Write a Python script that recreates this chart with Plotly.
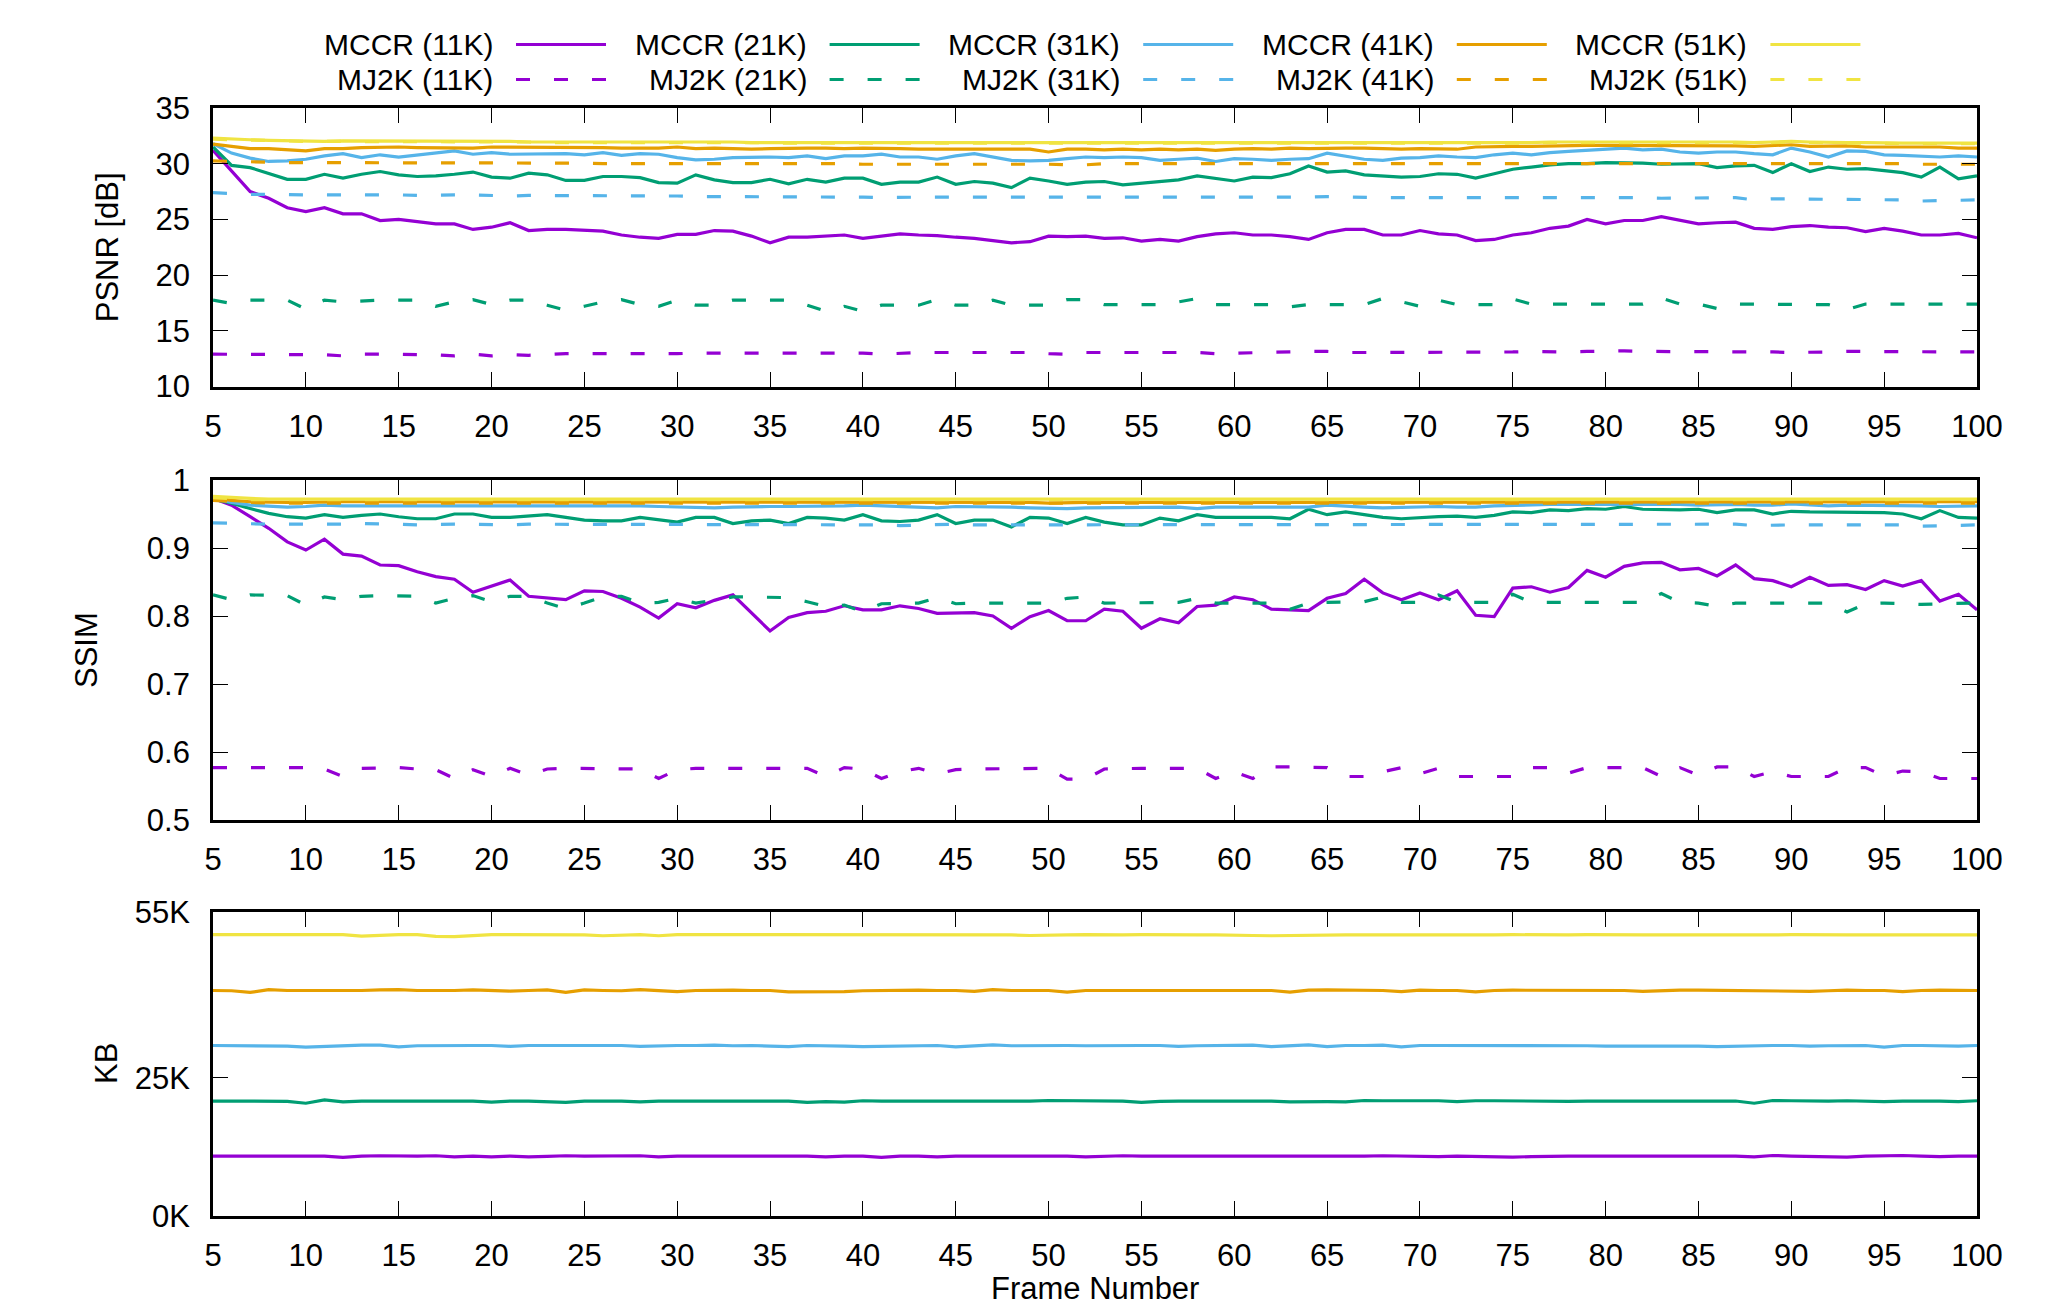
import plotly.graph_objects as go
from plotly.subplots import make_subplots

frames = list(range(5, 101))

labels_mccr = ["MCCR (11K)", "MCCR (21K)", "MCCR (31K)", "MCCR (41K)", "MCCR (51K)"]
labels_mj2k = ["MJ2K (11K)", "MJ2K (21K)", "MJ2K (31K)", "MJ2K (41K)", "MJ2K (51K)"]
colors = ["#9400d3", "#009e73", "#56b4e9", "#e69f00", "#f0e442"]

# ---------------- PSNR [dB] ----------------
psnr_mccr_11k = [31.2, 29.3, 27.5, 26.9, 26.05, 25.7, 26.05, 25.5, 25.5, 24.9,
                 25.0, 24.8, 24.6, 24.6, 24.1, 24.3, 24.7, 24.0, 24.1, 24.1,
                 24.0, 23.95, 23.6, 23.4, 23.3, 23.65, 23.65, 24.0, 23.95, 23.5,
                 22.9, 23.4, 23.4, 23.5, 23.6, 23.3, 23.5, 23.7, 23.6, 23.55,
                 23.4, 23.3, 23.1, 22.9, 23.0, 23.5, 23.45, 23.5, 23.3, 23.35,
                 23.05, 23.2, 23.05, 23.45, 23.7, 23.8, 23.6, 23.6, 23.45, 23.2,
                 23.8, 24.1, 24.1, 23.6, 23.6, 24.0, 23.7, 23.6, 23.1, 23.2,
                 23.6, 23.8, 24.2, 24.4, 25.0, 24.6, 24.9, 24.9, 25.25, 24.9,
                 24.6, 24.7, 24.75, 24.2, 24.1, 24.35, 24.45, 24.3, 24.25, 23.9,
                 24.2, 23.95, 23.6, 23.6, 23.75, 23.35]
psnr_mccr_21k = [31.5, 29.85, 29.65, 29.1, 28.6, 28.6, 29.05, 28.7, 29.05, 29.3,
                 29.0, 28.85, 28.9, 29.05, 29.25, 28.8, 28.7, 29.15, 29.0, 28.5,
                 28.5, 28.85, 28.85, 28.75, 28.3, 28.25, 29.0, 28.55, 28.3, 28.3,
                 28.6, 28.2, 28.6, 28.35, 28.7, 28.7, 28.15, 28.35, 28.35, 28.8,
                 28.15, 28.4, 28.25, 27.85, 28.7, 28.45, 28.15, 28.35, 28.4, 28.1,
                 28.25, 28.4, 28.55, 28.9, 28.7, 28.45, 28.8, 28.75, 29.1, 29.8,
                 29.25, 29.35, 29.0, 28.9, 28.8, 28.85, 29.1, 29.05, 28.7, 29.1,
                 29.5, 29.7, 29.9, 30.0, 30.0, 30.1, 30.1, 30.05, 29.95, 29.95,
                 30.0, 29.65, 29.8, 29.85, 29.2, 30.0, 29.3, 29.7, 29.5, 29.55,
                 29.4, 29.2, 28.8, 29.7, 28.65, 28.9]
psnr_mccr_31k = [31.8, 30.95, 30.5, 30.2, 30.25, 30.4, 30.7, 30.9, 30.55, 30.8,
                 30.6, 30.8, 30.95, 31.15, 30.85, 31.0, 30.85, 30.85, 30.9, 30.9,
                 30.8, 31.0, 30.75, 30.9, 30.85, 30.55, 30.35, 30.4, 30.55, 30.6,
                 30.6, 30.55, 30.7, 30.45, 30.7, 30.7, 30.85, 30.6, 30.6, 30.4,
                 30.7, 30.9, 30.6, 30.3, 30.25, 30.3, 30.45, 30.6, 30.55, 30.6,
                 30.55, 30.3, 30.4, 30.5, 30.2, 30.45, 30.4, 30.3, 30.4, 30.45,
                 30.95, 30.7, 30.4, 30.3, 30.5, 30.55, 30.7, 30.6, 30.55, 30.8,
                 30.95, 30.8, 31.0, 31.1, 31.2, 31.3, 31.4, 31.25, 31.3, 31.05,
                 30.95, 31.05, 31.05, 30.9, 30.8, 31.4, 31.05, 30.6, 31.15, 31.1,
                 30.8, 30.75, 30.7, 30.6, 30.7, 30.6]
psnr_mccr_41k = [31.75, 31.55, 31.35, 31.35, 31.25, 31.15, 31.35, 31.35, 31.45, 31.5,
                 31.5, 31.45, 31.45, 31.45, 31.4, 31.5, 31.5, 31.45, 31.45, 31.45,
                 31.45, 31.45, 31.4, 31.4, 31.4, 31.5, 31.35, 31.4, 31.35, 31.3,
                 31.35, 31.4, 31.4, 31.4, 31.35, 31.4, 31.4, 31.35, 31.3, 31.3,
                 31.3, 31.35, 31.35, 31.3, 31.3, 31.05, 31.3, 31.3, 31.25, 31.3,
                 31.25, 31.3, 31.25, 31.3, 31.2, 31.3, 31.35, 31.3, 31.4, 31.35,
                 31.4, 31.4, 31.4, 31.35, 31.3, 31.35, 31.3, 31.3, 31.5, 31.55,
                 31.55, 31.55, 31.6, 31.6, 31.65, 31.65, 31.65, 31.6, 31.6, 31.6,
                 31.6, 31.6, 31.6, 31.55, 31.6, 31.7, 31.55, 31.55, 31.6, 31.5,
                 31.5, 31.5, 31.45, 31.5, 31.4, 31.4]
psnr_mccr_51k = [32.3, 32.2, 32.15, 32.1, 32.05, 32.05, 32.0, 32.05, 32.05, 32.05,
                 32.05, 32.0, 32.0, 32.0, 32.0, 32.0, 32.0, 31.95, 31.95, 31.95,
                 31.95, 31.95, 31.95, 31.95, 31.95, 32.0, 31.95, 31.95, 31.95, 31.9,
                 31.9, 31.9, 31.9, 31.9, 31.85, 31.85, 31.85, 31.85, 31.85, 31.85,
                 31.85, 31.85, 31.85, 31.85, 31.85, 31.85, 31.9, 31.85, 31.85, 31.85,
                 31.85, 31.85, 31.85, 31.85, 31.85, 31.85, 31.85, 31.85, 31.9, 31.9,
                 31.9, 31.9, 31.85, 31.85, 31.85, 31.85, 31.85, 31.85, 31.9, 31.9,
                 31.9, 31.9, 31.95, 31.95, 31.95, 32.0, 32.0, 31.95, 31.95, 31.95,
                 31.95, 31.95, 31.95, 31.9, 31.95, 32.0, 31.95, 31.9, 31.9, 31.9,
                 31.85, 31.85, 31.85, 31.85, 31.85, 31.85]
psnr_mj2k_11k = [12.9, 12.9, 12.9, 12.9, 12.9, 12.9, 12.85, 12.75, 12.9, 12.9,
                 12.9, 12.9, 12.85, 12.75, 12.9, 12.75, 12.85, 12.8, 12.9, 12.95,
                 12.95, 12.95, 12.95, 12.9, 12.9, 12.95, 13.0, 13.0, 13.0, 13.0,
                 13.0, 12.95, 13.0, 13.0, 13.0, 13.0, 12.9, 13.0, 13.05, 13.05,
                 13.05, 13.05, 13.05, 13.05, 13.05, 12.95, 12.9, 13.05, 13.05, 13.05,
                 13.05, 13.05, 13.05, 13.05, 12.95, 13.0, 13.05, 13.1, 13.15, 13.15,
                 13.15, 13.05, 13.05, 13.05, 13.1, 13.05, 13.05, 13.05, 13.05, 13.05,
                 13.1, 13.15, 13.1, 13.1, 13.15, 13.2, 13.2, 13.15, 13.15, 13.1,
                 13.1, 13.15, 13.15, 13.1, 13.1, 13.05, 13.05, 13.1, 13.15, 13.15,
                 13.15, 13.15, 13.15, 13.1, 13.1, 13.1]
psnr_mj2k_21k = [17.75, 17.45, 17.75, 17.75, 17.75, 16.95, 17.75, 17.6, 17.7, 17.75,
                 17.75, 17.75, 17.2, 17.6, 17.8, 17.35, 17.75, 17.75, 17.3, 16.85,
                 17.2, 17.6, 17.8, 17.35, 17.2, 17.75, 17.3, 17.3, 17.75, 17.75,
                 17.75, 17.75, 17.3, 16.75, 17.2, 16.75, 17.3, 17.3, 17.3, 17.8,
                 17.3, 17.3, 17.75, 17.3, 17.3, 17.3, 17.8, 17.8, 17.35, 17.35,
                 17.35, 17.35, 17.6, 17.9, 17.35, 17.35, 17.35, 17.35, 17.15, 17.35,
                 17.35, 17.35, 17.35, 17.9, 17.6, 17.2, 17.75, 17.35, 17.35, 17.35,
                 17.85, 17.4, 17.4, 17.4, 17.4, 17.4, 17.4, 17.4, 17.95, 17.4,
                 17.4, 17.0, 17.4, 17.4, 17.4, 17.4, 17.4, 17.35, 16.9, 17.4,
                 17.4, 17.4, 17.4, 17.4, 17.4, 17.4]
psnr_mj2k_31k = [27.4, 27.3, 27.25, 27.25, 27.2, 27.2, 27.2, 27.2, 27.25, 27.25,
                 27.2, 27.15, 27.2, 27.2, 27.2, 27.15, 27.1, 27.15, 27.15, 27.1,
                 27.1, 27.1, 27.1, 27.1, 27.1, 27.1, 27.05, 27.05, 27.05, 27.05,
                 27.05, 27.05, 27.0, 27.0, 27.0, 27.0, 26.95, 27.0, 27.0, 27.0,
                 27.0, 27.0, 27.0, 27.0, 26.95, 26.95, 26.95, 26.95, 26.95, 27.0,
                 26.95, 26.95, 26.95, 27.0, 26.95, 26.95, 26.95, 27.0, 27.0, 27.0,
                 27.05, 27.0, 26.95, 26.95, 26.95, 26.95, 26.95, 26.95, 26.95, 26.95,
                 26.95, 26.95, 27.0, 27.0, 26.95, 27.0, 26.95, 26.95, 26.9, 26.9,
                 26.9, 26.95, 26.95, 26.75, 26.85, 26.85, 26.8, 26.8, 26.8, 26.8,
                 26.8, 26.75, 26.65, 26.7, 26.75, 26.75]
psnr_mj2k_41k = [30.25, 30.2, 30.15, 30.15, 30.1, 30.1, 30.1, 30.1, 30.1, 30.1,
                 30.1, 30.1, 30.1, 30.05, 30.05, 30.05, 30.05, 30.05, 30.05, 30.05,
                 30.05, 30.0, 30.0, 30.05, 30.05, 30.05, 30.05, 30.0, 30.0, 30.0,
                 30.0, 30.0, 30.0, 30.0, 30.0, 29.95, 29.95, 29.95, 30.0, 30.0,
                 30.0, 29.95, 29.95, 29.95, 30.0, 29.95, 29.9, 29.9, 30.0, 30.0,
                 30.0, 30.0, 30.0, 30.0, 30.0, 30.0, 30.0, 30.0, 30.0, 30.05,
                 30.05, 30.0, 30.0, 30.0, 30.0, 30.0, 30.0, 30.0, 30.0, 30.0,
                 30.0, 30.05, 30.05, 30.05, 30.05, 30.05, 30.05, 30.05, 30.05, 30.05,
                 30.05, 30.05, 30.05, 30.0, 30.05, 30.05, 30.0, 30.0, 30.0, 30.0,
                 30.0, 30.0, 29.95, 29.95, 29.95, 29.95]
psnr_mj2k_51k = [32.2, 32.15, 32.1, 32.05, 32.05, 32.0, 32.0, 32.0, 32.0, 32.0,
                 32.0, 31.95, 31.95, 31.95, 31.95, 31.95, 31.95, 31.95, 31.9, 31.9,
                 31.9, 31.9, 31.9, 31.9, 31.9, 31.95, 31.9, 31.9, 31.9, 31.9,
                 31.85, 31.85, 31.85, 31.85, 31.85, 31.85, 31.85, 31.85, 31.8, 31.8,
                 31.8, 31.8, 31.8, 31.8, 31.8, 31.8, 31.85, 31.8, 31.8, 31.8,
                 31.8, 31.8, 31.8, 31.8, 31.8, 31.8, 31.8, 31.8, 31.85, 31.85,
                 31.85, 31.85, 31.8, 31.8, 31.8, 31.8, 31.8, 31.8, 31.85, 31.85,
                 31.85, 31.85, 31.9, 31.9, 31.9, 31.95, 31.95, 31.9, 31.9, 31.9,
                 31.9, 31.9, 31.9, 31.85, 31.9, 31.95, 31.9, 31.85, 31.85, 31.85,
                 31.8, 31.8, 31.8, 31.8, 31.8, 31.8]

# ---------------- SSIM ----------------
ssim_mccr_11k = [0.973, 0.963, 0.946, 0.929, 0.909, 0.897, 0.913, 0.891, 0.888, 0.875,
                 0.874, 0.865, 0.858, 0.854, 0.835, 0.844, 0.853, 0.829, 0.827, 0.824,
                 0.837, 0.836, 0.826, 0.813, 0.797, 0.818, 0.812, 0.823, 0.831, 0.804,
                 0.778, 0.798, 0.805, 0.807, 0.815, 0.809, 0.809, 0.815, 0.811, 0.804,
                 0.805, 0.805, 0.800, 0.782, 0.799, 0.808, 0.793, 0.793, 0.810, 0.807,
                 0.782, 0.796, 0.790, 0.814, 0.816, 0.828, 0.824, 0.810, 0.809, 0.808,
                 0.826, 0.833, 0.854, 0.834, 0.824, 0.834, 0.824, 0.837, 0.801, 0.799,
                 0.841, 0.843, 0.835, 0.842, 0.867, 0.857, 0.873, 0.878, 0.879, 0.868,
                 0.870, 0.859, 0.875, 0.855, 0.852, 0.843, 0.857, 0.845, 0.846, 0.839,
                 0.852, 0.844, 0.852, 0.822, 0.832, 0.809]
ssim_mccr_21k = [0.972, 0.966, 0.958, 0.951, 0.946, 0.944, 0.949, 0.945, 0.948, 0.950,
                 0.946, 0.943, 0.943, 0.950, 0.950, 0.945, 0.945, 0.947, 0.949, 0.945,
                 0.941, 0.940, 0.940, 0.945, 0.941, 0.938, 0.945, 0.945, 0.936, 0.940,
                 0.941, 0.936, 0.945, 0.944, 0.941, 0.949, 0.940, 0.939, 0.941, 0.949,
                 0.936, 0.941, 0.941, 0.931, 0.945, 0.944, 0.936, 0.945, 0.938, 0.934,
                 0.934, 0.944, 0.940, 0.949, 0.945, 0.945, 0.946, 0.945, 0.943, 0.957,
                 0.949, 0.953, 0.949, 0.945, 0.943, 0.945, 0.946, 0.947, 0.945, 0.948,
                 0.953, 0.952, 0.956, 0.955, 0.958, 0.957, 0.961, 0.957, 0.956, 0.956,
                 0.957, 0.952, 0.956, 0.956, 0.950, 0.954, 0.953, 0.953, 0.953, 0.953,
                 0.952, 0.950, 0.943, 0.955, 0.945, 0.944]
ssim_mccr_31k = [0.973, 0.967, 0.963, 0.962, 0.960, 0.961, 0.963, 0.962, 0.962, 0.963,
                 0.963, 0.963, 0.962, 0.963, 0.963, 0.963, 0.962, 0.963, 0.963, 0.963,
                 0.963, 0.962, 0.963, 0.962, 0.961, 0.960, 0.960, 0.959, 0.960, 0.961,
                 0.961, 0.961, 0.961, 0.961, 0.962, 0.963, 0.962, 0.962, 0.961, 0.959,
                 0.961, 0.961, 0.961, 0.960, 0.959, 0.958, 0.958, 0.959, 0.959, 0.959,
                 0.959, 0.959, 0.960, 0.958, 0.960, 0.960, 0.960, 0.959, 0.959, 0.960,
                 0.963, 0.961, 0.960, 0.959, 0.960, 0.960, 0.961, 0.960, 0.960, 0.962,
                 0.963, 0.963, 0.964, 0.964, 0.964, 0.965, 0.965, 0.964, 0.964, 0.964,
                 0.963, 0.964, 0.964, 0.963, 0.963, 0.965, 0.963, 0.962, 0.963, 0.963,
                 0.962, 0.962, 0.962, 0.961, 0.962, 0.962]
ssim_mccr_41k = [0.974, 0.970, 0.968, 0.967, 0.967, 0.967, 0.968, 0.968, 0.968, 0.968,
                 0.968, 0.968, 0.968, 0.968, 0.968, 0.968, 0.968, 0.968, 0.968, 0.967,
                 0.968, 0.968, 0.967, 0.967, 0.967, 0.967, 0.967, 0.967, 0.967, 0.967,
                 0.967, 0.967, 0.967, 0.967, 0.967, 0.967, 0.967, 0.967, 0.967, 0.967,
                 0.967, 0.967, 0.967, 0.967, 0.967, 0.966, 0.967, 0.967, 0.967, 0.967,
                 0.967, 0.967, 0.967, 0.967, 0.967, 0.967, 0.967, 0.967, 0.967, 0.967,
                 0.967, 0.967, 0.967, 0.967, 0.967, 0.967, 0.967, 0.967, 0.968, 0.968,
                 0.968, 0.968, 0.968, 0.968, 0.968, 0.968, 0.968, 0.968, 0.968, 0.968,
                 0.968, 0.968, 0.968, 0.968, 0.968, 0.968, 0.968, 0.968, 0.968, 0.968,
                 0.968, 0.968, 0.968, 0.968, 0.968, 0.968]
ssim_mccr_51k = [0.976, 0.974, 0.973, 0.972, 0.972, 0.972, 0.972, 0.972, 0.972, 0.972,
                 0.972, 0.972, 0.972, 0.972, 0.972, 0.972, 0.972, 0.972, 0.972, 0.972,
                 0.972, 0.972, 0.972, 0.971, 0.971, 0.971, 0.971, 0.971, 0.971, 0.971,
                 0.971, 0.971, 0.971, 0.971, 0.971, 0.971, 0.971, 0.971, 0.971, 0.971,
                 0.971, 0.971, 0.971, 0.971, 0.971, 0.971, 0.971, 0.971, 0.971, 0.971,
                 0.971, 0.971, 0.971, 0.971, 0.971, 0.971, 0.971, 0.971, 0.971, 0.971,
                 0.971, 0.971, 0.971, 0.971, 0.971, 0.971, 0.971, 0.971, 0.972, 0.972,
                 0.972, 0.972, 0.972, 0.972, 0.972, 0.972, 0.972, 0.972, 0.972, 0.972,
                 0.972, 0.972, 0.972, 0.972, 0.972, 0.972, 0.972, 0.972, 0.972, 0.972,
                 0.972, 0.972, 0.972, 0.972, 0.972, 0.972]
ssim_mj2k_11k = [0.577, 0.577, 0.577, 0.577, 0.577, 0.577, 0.575, 0.564, 0.576, 0.577,
                 0.577, 0.575, 0.574, 0.561, 0.574, 0.564, 0.576, 0.566, 0.575, 0.576,
                 0.576, 0.576, 0.576, 0.575, 0.561, 0.574, 0.576, 0.576, 0.575, 0.576,
                 0.576, 0.576, 0.576, 0.564, 0.577, 0.575, 0.561, 0.571, 0.576, 0.568,
                 0.574, 0.575, 0.575, 0.576, 0.576, 0.576, 0.560, 0.560, 0.575, 0.576,
                 0.576, 0.576, 0.576, 0.576, 0.561, 0.571, 0.561, 0.578, 0.578, 0.578,
                 0.577, 0.564, 0.564, 0.571, 0.577, 0.568, 0.576, 0.564, 0.564, 0.564,
                 0.564, 0.577, 0.577, 0.569, 0.577, 0.577, 0.577, 0.577, 0.564, 0.577,
                 0.566, 0.578, 0.578, 0.564, 0.571, 0.564, 0.564, 0.564, 0.577, 0.577,
                 0.565, 0.572, 0.571, 0.561, 0.561, 0.561]
ssim_mj2k_21k = [0.831, 0.824, 0.831, 0.830, 0.830, 0.816, 0.828, 0.824, 0.829, 0.830,
                 0.830, 0.829, 0.819, 0.826, 0.830, 0.821, 0.829, 0.829, 0.819, 0.811,
                 0.819, 0.828, 0.829, 0.819, 0.820, 0.826, 0.819, 0.824, 0.828, 0.828,
                 0.828, 0.827, 0.821, 0.814, 0.816, 0.806, 0.818, 0.819, 0.819, 0.827,
                 0.818, 0.819, 0.819, 0.819, 0.819, 0.819, 0.826, 0.828, 0.819, 0.819,
                 0.819, 0.819, 0.820, 0.826, 0.819, 0.819, 0.819, 0.819, 0.810, 0.819,
                 0.820, 0.820, 0.821, 0.828, 0.820, 0.820, 0.831, 0.820, 0.820, 0.820,
                 0.832, 0.820, 0.820, 0.820, 0.820, 0.820, 0.820, 0.820, 0.833, 0.820,
                 0.819, 0.814, 0.819, 0.819, 0.819, 0.819, 0.820, 0.819, 0.806, 0.818,
                 0.819, 0.818, 0.817, 0.818, 0.819, 0.819]
ssim_mj2k_31k = [0.937, 0.936, 0.936, 0.935, 0.935, 0.935, 0.934, 0.935, 0.936, 0.936,
                 0.935, 0.934, 0.935, 0.935, 0.935, 0.934, 0.934, 0.935, 0.935, 0.934,
                 0.935, 0.934, 0.935, 0.935, 0.934, 0.935, 0.934, 0.934, 0.934, 0.935,
                 0.935, 0.935, 0.934, 0.935, 0.934, 0.934, 0.934, 0.933, 0.934, 0.935,
                 0.935, 0.934, 0.934, 0.935, 0.934, 0.934, 0.935, 0.934, 0.934, 0.934,
                 0.934, 0.935, 0.934, 0.935, 0.935, 0.935, 0.934, 0.935, 0.935, 0.934,
                 0.935, 0.935, 0.934, 0.935, 0.935, 0.934, 0.935, 0.934, 0.935, 0.935,
                 0.935, 0.935, 0.935, 0.935, 0.935, 0.935, 0.935, 0.935, 0.934, 0.935,
                 0.934, 0.935, 0.935, 0.933, 0.934, 0.934, 0.934, 0.934, 0.934, 0.934,
                 0.934, 0.934, 0.932, 0.933, 0.934, 0.934]
ssim_mj2k_41k = [0.970, 0.968, 0.967, 0.966, 0.966, 0.966, 0.966, 0.966, 0.966, 0.966,
                 0.966, 0.966, 0.966, 0.966, 0.966, 0.966, 0.966, 0.966, 0.966, 0.966,
                 0.966, 0.966, 0.966, 0.966, 0.966, 0.966, 0.966, 0.966, 0.966, 0.966,
                 0.966, 0.966, 0.966, 0.966, 0.966, 0.966, 0.966, 0.966, 0.966, 0.966,
                 0.966, 0.966, 0.966, 0.966, 0.966, 0.966, 0.966, 0.966, 0.966, 0.966,
                 0.966, 0.966, 0.966, 0.966, 0.966, 0.966, 0.966, 0.966, 0.966, 0.966,
                 0.966, 0.966, 0.966, 0.966, 0.966, 0.966, 0.966, 0.966, 0.966, 0.966,
                 0.966, 0.966, 0.966, 0.966, 0.966, 0.966, 0.966, 0.966, 0.966, 0.966,
                 0.966, 0.966, 0.966, 0.966, 0.966, 0.966, 0.966, 0.966, 0.966, 0.966,
                 0.966, 0.966, 0.966, 0.966, 0.966, 0.966]
ssim_mj2k_51k = [0.974, 0.972, 0.971, 0.971, 0.971, 0.971, 0.971, 0.971, 0.971, 0.971,
                 0.971, 0.971, 0.971, 0.971, 0.971, 0.971, 0.971, 0.971, 0.971, 0.971,
                 0.971, 0.971, 0.971, 0.970, 0.970, 0.970, 0.970, 0.970, 0.970, 0.970,
                 0.970, 0.970, 0.970, 0.970, 0.970, 0.970, 0.970, 0.970, 0.970, 0.970,
                 0.970, 0.970, 0.970, 0.970, 0.970, 0.970, 0.970, 0.970, 0.970, 0.970,
                 0.970, 0.970, 0.970, 0.970, 0.970, 0.970, 0.970, 0.970, 0.970, 0.970,
                 0.970, 0.970, 0.970, 0.970, 0.970, 0.970, 0.970, 0.970, 0.971, 0.971,
                 0.971, 0.971, 0.971, 0.971, 0.971, 0.971, 0.971, 0.971, 0.971, 0.971,
                 0.971, 0.971, 0.971, 0.971, 0.971, 0.971, 0.971, 0.971, 0.971, 0.971,
                 0.971, 0.971, 0.971, 0.971, 0.971, 0.971]

# ---------------- Size [K] ----------------
kb_mccr_11k = [10.85, 10.85, 10.85, 10.85, 10.9, 10.9, 10.85, 10.6, 10.85, 10.9,
               10.85, 10.85, 10.9, 10.7, 10.85, 10.7, 10.85, 10.7, 10.8, 10.9,
               10.85, 10.85, 10.85, 10.9, 10.7, 10.85, 10.85, 10.85, 10.9, 10.85,
               10.85, 10.85, 10.85, 10.7, 10.85, 10.85, 10.6, 10.85, 10.85, 10.7,
               10.85, 10.85, 10.85, 10.85, 10.85, 10.9, 10.85, 10.7, 10.85, 10.9,
               10.85, 10.85, 10.85, 10.75, 10.85, 10.75, 10.85, 10.85, 10.85, 10.85,
               10.75, 10.85, 10.85, 10.9, 10.85, 10.85, 10.75, 10.85, 10.8, 10.75,
               10.65, 10.75, 10.85, 10.85, 10.85, 10.85, 10.85, 10.9, 10.8, 10.85,
               10.85, 10.9, 10.85, 10.7, 10.95, 10.85, 10.75, 10.65, 10.65, 10.85,
               10.95, 10.95, 10.85, 10.75, 10.85, 10.85]
kb_mccr_21k = [20.8, 20.8, 20.8, 20.8, 20.75, 20.4, 21.0, 20.65, 20.8, 20.8,
               20.8, 20.8, 20.8, 20.75, 20.8, 20.6, 20.8, 20.8, 20.7, 20.55,
               20.8, 20.8, 20.8, 20.65, 20.8, 20.8, 20.8, 20.8, 20.85, 20.85,
               20.8, 20.8, 20.55, 20.7, 20.6, 20.85, 20.8, 20.8, 20.75, 20.85,
               20.8, 20.8, 20.8, 20.75, 20.8, 20.9, 20.9, 20.8, 20.85, 20.8,
               20.55, 20.75, 20.8, 20.8, 20.8, 20.8, 20.8, 20.8, 20.65, 20.7,
               20.7, 20.65, 20.9, 20.85, 20.85, 20.85, 20.85, 20.7, 20.85, 20.85,
               20.8, 20.85, 20.8, 20.75, 20.8, 20.8, 20.8, 20.8, 20.8, 20.8,
               20.85, 20.75, 20.8, 20.4, 20.9, 20.85, 20.8, 20.8, 20.85, 20.8,
               20.7, 20.8, 20.85, 20.8, 20.7, 20.85]
kb_mccr_31k = [30.85, 30.85, 30.85, 30.85, 30.75, 30.55, 30.7, 30.85, 30.9, 30.9,
               30.6, 30.8, 30.85, 30.9, 30.85, 30.85, 30.7, 30.85, 30.9, 30.85,
               30.85, 30.85, 30.85, 30.7, 30.8, 30.85, 30.85, 30.9, 30.8, 30.85,
               30.75, 30.65, 30.85, 30.85, 30.75, 30.65, 30.7, 30.85, 30.9, 30.85,
               30.6, 30.75, 30.95, 30.8, 30.85, 30.85, 30.85, 30.8, 30.85, 30.85,
               30.85, 30.85, 30.7, 30.8, 30.85, 30.85, 30.9, 30.65, 30.8, 30.95,
               30.65, 30.85, 30.85, 30.9, 30.6, 30.85, 30.85, 30.85, 30.85, 30.85,
               30.85, 30.9, 30.85, 30.85, 30.8, 30.75, 30.75, 30.8, 30.85, 30.8,
               30.75, 30.65, 30.75, 30.85, 30.85, 30.85, 30.75, 30.8, 30.85, 30.85,
               30.55, 30.85, 30.85, 30.75, 30.75, 30.85]
kb_mccr_41k = [40.8, 40.75, 40.45, 40.95, 40.8, 40.8, 40.75, 40.8, 40.8, 40.9,
               40.95, 40.8, 40.75, 40.8, 40.9, 40.8, 40.7, 40.8, 40.9, 40.45,
               40.9, 40.8, 40.75, 40.95, 40.8, 40.6, 40.8, 40.85, 40.85, 40.8,
               40.8, 40.55, 40.55, 40.55, 40.6, 40.75, 40.8, 40.8, 40.85, 40.8,
               40.8, 40.65, 40.95, 40.8, 40.8, 40.8, 40.5, 40.8, 40.8, 40.8,
               40.8, 40.8, 40.8, 40.8, 40.85, 40.8, 40.8, 40.8, 40.5, 40.85,
               40.9, 40.85, 40.85, 40.8, 40.6, 40.85, 40.8, 40.8, 40.55, 40.8,
               40.85, 40.85, 40.8, 40.8, 40.85, 40.85, 40.8, 40.65, 40.8, 40.85,
               40.85, 40.8, 40.85, 40.8, 40.65, 40.65, 40.65, 40.75, 40.85, 40.8,
               40.8, 40.6, 40.8, 40.85, 40.8, 40.8]
kb_mccr_51k = [50.9, 50.9, 50.9, 50.9, 50.9, 50.9, 50.9, 50.9, 50.65, 50.8,
               50.9, 50.9, 50.6, 50.55, 50.75, 50.9, 50.9, 50.9, 50.9, 50.9,
               50.85, 50.7, 50.85, 50.9, 50.7, 50.9, 50.9, 50.9, 50.85, 50.85,
               50.85, 50.85, 50.85, 50.85, 50.9, 50.9, 50.9, 50.85, 50.85, 50.9,
               50.85, 50.85, 50.85, 50.85, 50.75, 50.85, 50.85, 50.9, 50.85, 50.85,
               50.9, 50.85, 50.85, 50.85, 50.85, 50.75, 50.75, 50.7, 50.75, 50.85,
               50.85, 50.85, 50.85, 50.8, 50.85, 50.85, 50.85, 50.75, 50.85, 50.85,
               50.9, 50.85, 50.85, 50.85, 50.9, 50.85, 50.85, 50.85, 50.85, 50.9,
               50.85, 50.85, 50.85, 50.75, 50.85, 50.9, 50.85, 50.85, 50.85, 50.85,
               50.8, 50.85, 50.85, 50.85, 50.85, 50.85]

psnr_ticks = [10, 15, 20, 25, 30, 35]
ssim_ticks = [0.5, 0.6, 0.7, 0.8, 0.9, 1.0]
ssim_ticktext = ["0.5", "0.6", "0.7", "0.8", "0.9", "1"]
kb_ticks = [0, 25, 55]
kb_ticktext = ["0K", "25K", "55K"]
x_ticks = list(range(5, 101, 5))

psnr_mccr = [psnr_mccr_11k, psnr_mccr_21k, psnr_mccr_31k, psnr_mccr_41k, psnr_mccr_51k]
psnr_mj2k = [psnr_mj2k_11k, psnr_mj2k_21k, psnr_mj2k_31k, psnr_mj2k_41k, psnr_mj2k_51k]
ssim_mccr = [ssim_mccr_11k, ssim_mccr_21k, ssim_mccr_31k, ssim_mccr_41k, ssim_mccr_51k]
ssim_mj2k = [ssim_mj2k_11k, ssim_mj2k_21k, ssim_mj2k_31k, ssim_mj2k_41k, ssim_mj2k_51k]
kb_mccr = [kb_mccr_11k, kb_mccr_21k, kb_mccr_31k, kb_mccr_41k, kb_mccr_51k]

FONT = "Liberation Sans, Arial, Helvetica, sans-serif"
FS = 31
KEY_FS = 30
LW = 3.2
DASH = "14px,24px"

W, H = 2069, 1306
ML, MR, MT, MB = 213, 92, 108, 90
PW, PH = W - ML - MR, H - MT - MB


def px_x(px):
    return (px - ML) / PW


def px_y(py):
    return (H - MB - py) / PH


fig = make_subplots(rows=3, cols=1)

for i in range(5):
    fig.add_trace(go.Scatter(x=frames, y=psnr_mccr[i], mode="lines",
                             line=dict(color=colors[i], width=LW), showlegend=False), row=1, col=1)
    fig.add_trace(go.Scatter(x=frames, y=ssim_mccr[i], mode="lines",
                             line=dict(color=colors[i], width=LW), showlegend=False), row=2, col=1)
for i in range(5):
    fig.add_trace(go.Scatter(x=frames, y=psnr_mj2k[i], mode="lines",
                             line=dict(color=colors[i], width=LW, dash=DASH), showlegend=False), row=1, col=1)
    fig.add_trace(go.Scatter(x=frames, y=ssim_mj2k[i], mode="lines",
                             line=dict(color=colors[i], width=LW, dash=DASH), showlegend=False), row=2, col=1)
for i in range(5):
    fig.add_trace(go.Scatter(x=frames, y=kb_mccr[i], mode="lines",
                             line=dict(color=colors[i], width=LW), showlegend=False), row=3, col=1)

axis_common = dict(showline=True, linecolor="black", linewidth=2.8, mirror="allticks",
                   ticks="inside", ticklen=15, tickwidth=1.4, tickcolor="black",
                   showgrid=False, zeroline=False,
                   tickfont=dict(family=FONT, size=FS, color="black"))

domains = [[px_y(386.5), 1.0], [px_y(820), px_y(480)], [0.0, px_y(912)]]
for r in range(1, 4):
    fig.update_xaxes(range=[5, 100], tickvals=x_ticks, ticklabelstandoff=10,
                     domain=[0, 1], row=r, col=1, **axis_common)
    fig.update_yaxes(domain=domains[r - 1], ticklabelstandoff=14, row=r, col=1, **axis_common)

fig.update_yaxes(range=[10, 35], tickvals=psnr_ticks, row=1, col=1)
fig.update_yaxes(range=[0.5, 1.0], tickvals=ssim_ticks, ticktext=ssim_ticktext, row=2, col=1)
fig.update_yaxes(range=[0, 55], tickvals=kb_ticks, ticktext=kb_ticktext, row=3, col=1)

annotations = []
for text, cx, cy in [("PSNR [dB]", 107, (108 + 386.5) / 2),
                     ("SSIM", 86, (480 + 820) / 2),
                     ("KB", 106, (912 + 1216) / 2)]:
    annotations.append(dict(text=text, xref="paper", yref="paper", x=px_x(cx), y=px_y(cy),
                            xanchor="center", yanchor="middle", textangle=-90, showarrow=False,
                            font=dict(family=FONT, size=FS, color="black")))
annotations.append(dict(text="Frame Number", xref="paper", yref="paper", x=0.5, y=px_y(1288),
                        xanchor="center", yanchor="middle", showarrow=False,
                        font=dict(family=FONT, size=FS, color="black")))

# gnuplot-style key: label text followed by the line sample
shapes = []
for i in range(5):
    right = 494 + i * 313.6
    for lab, dash, cy in [(labels_mccr[i], "solid", 44.5), (labels_mj2k[i], DASH, 79.5)]:
        annotations.append(dict(text=lab, xref="paper", yref="paper", x=px_x(right), y=px_y(cy),
                                xanchor="right", yanchor="middle", showarrow=False, borderpad=0,
                                font=dict(family=FONT, size=KEY_FS, color="black")))
        shapes.append(dict(type="line", xref="paper", yref="paper",
                           x0=px_x(right + 22), x1=px_x(right + 112), y0=px_y(cy), y1=px_y(cy),
                           line=dict(color=colors[i], width=LW, dash=dash)))

fig.update_layout(width=W, height=H, margin=dict(l=ML, r=MR, t=MT, b=MB),
                  paper_bgcolor="white", plot_bgcolor="white",
                  annotations=annotations, shapes=shapes, showlegend=False,
                  font=dict(family=FONT, size=FS, color="black"))

fig.write_html("out.html", config={"displayModeBar": False},
               post_script="document.body.style.margin='0px';document.body.style.overflow='hidden';")
